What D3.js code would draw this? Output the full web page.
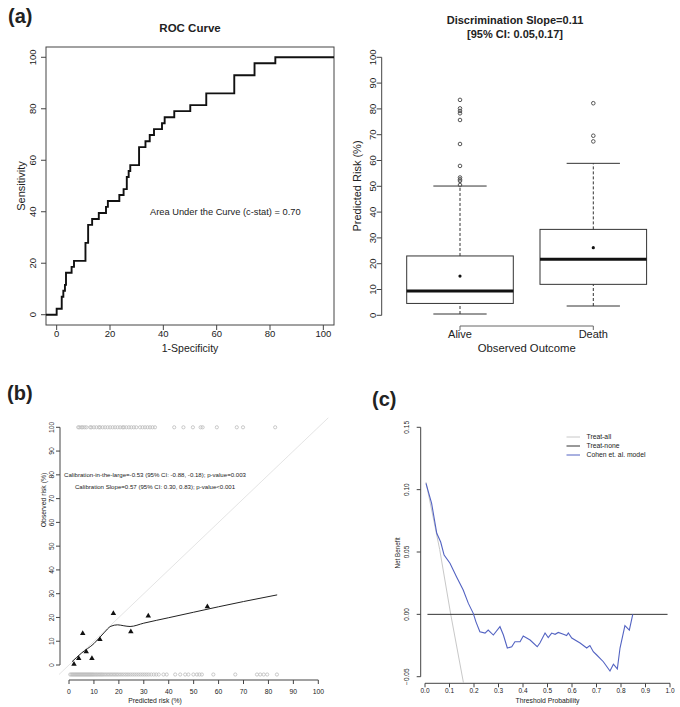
<!DOCTYPE html>
<html>
<head>
<meta charset="utf-8">
<script src="https://cdn.jsdelivr.net/npm/d3@7"></script>
<style>
  body { margin: 0; background: #fff; }
  text { font-family: "Liberation Sans", Arial, sans-serif; fill: #222; }
</style>
</head>
<body>
<script>
// ---- panel (a) ROC ----
var rocFpr = [-4, 0, 1.9, 2.5, 3.1, 3.5, 5.6, 6.5, 10.8, 11.8, 13.3, 15.8, 18.5, 19.2, 23.5, 25.1, 26.3, 27, 27.6, 30.9, 33.3, 34.9, 36.5, 39.5, 40.5, 44.1, 50.1, 56.1, 66.6, 74.2, 82, 104];
var rocTpr = [0, 2.3, 7, 9.3, 11.6, 16.3, 18.6, 20.9, 27.9, 34.9, 37.2, 39.5, 41.9, 44.2, 46.5, 48.8, 53.5, 55.8, 58.1, 65.1, 67.4, 69.8, 72.1, 74.4, 76.7, 79.1, 81.4, 86, 93, 97.7, 100, 100];
var rocTicks = [0, 20, 40, 60, 80, 100];

// ---- panel (a) boxplot ----
var outcomes = ["Alive", "Death"];
var boxLow = [0.5, 3.6];
var boxQ1 = [4.6, 12.0];
var boxMed = [9.4, 21.7];
var boxQ3 = [23.0, 33.3];
var boxHigh = [50.1, 58.9];
var boxMean = [15.2, 26.2];
var boxOut = [[50.5, 52.1, 52.7, 53.4, 57.9, 66.4, 75.7, 78.3, 79.2, 80.2, 83.5], [67.4, 69.6, 82.2]];
var boxTicks = [0, 10, 20, 30, 40, 50, 60, 70, 80, 90, 100];

// ---- panel (b) calibration ----
var decPred = [2, 3.9, 5.5, 6.9, 9.2, 12.4, 17.8, 24.8, 31.8, 55.5];
var decObs = [0.4, 2.8, 13.3, 5.6, 2.8, 10.8, 21.7, 14, 20.7, 24.5];
var loessX = [1.2, 5, 10, 14, 16.8, 19.5, 22, 24.5, 30, 40, 50, 60, 70, 83.5];
var loessY = [1.4, 5, 9, 13.5, 16.3, 16.9, 16.5, 16.2, 17.6, 19.9, 22.2, 24.5, 26.7, 29.5];
var rugDeath = [3.7, 4.2, 5, 5.5, 6.3, 7, 8.5, 9, 10, 11, 12, 12.5, 13.5, 14.5, 15.5, 16.5, 17.5, 18.5, 19.5, 20.5, 21.5, 22, 23, 24, 25, 26, 27, 28.5, 29.5, 30.5, 31.5, 32.5, 33.5, 34.5, 42.2, 45.9, 49.7, 52.8, 53.6, 59.3, 67.3, 69.8, 82.7];
var rugAlive = [0.5, 1, 1.4, 1.8, 2.2, 2.6, 3, 3.4, 3.8, 4.2, 4.6, 5, 5.4, 5.8, 6.2, 6.6, 7, 7.4, 7.8, 8.2, 8.6, 9, 9.4, 9.8, 10.3, 10.8, 11.3, 11.8, 12.3, 12.8, 13.3, 13.8, 14.4, 15, 15.6, 16.2, 16.8, 17.4, 18, 18.6, 19.2, 19.8, 20.5, 21.2, 21.9, 22.6, 23.3, 24, 24.8, 25.6, 26.4, 27.2, 28, 28.8, 29.6, 30.4, 31.2, 32, 33, 34, 35, 36, 37.9, 39.2, 42.6, 44.6, 46.6, 47.9, 49.9, 51.3, 52.3, 53.3, 57.9, 66.7, 75.4, 76.7, 78.1, 79.5, 83.4];
var calTicks = [0, 10, 20, 30, 40, 50, 60, 70, 80, 90, 100];

// ---- panel (c) decision curve ----
var dcaT = [0.004, 0.027, 0.048, 0.064, 0.078, 0.102, 0.129, 0.156, 0.177, 0.197, 0.208, 0.224, 0.245, 0.258, 0.279, 0.306, 0.320, 0.336, 0.354, 0.367, 0.388, 0.401, 0.429, 0.458, 0.469, 0.490, 0.503, 0.517, 0.531, 0.544, 0.565, 0.578, 0.585, 0.599, 0.633, 0.660, 0.673, 0.687, 0.701, 0.728, 0.755, 0.769, 0.785, 0.796, 0.816, 0.834, 0.848];
var dcaNB = [0.105, 0.089, 0.065, 0.058, 0.0475, 0.041, 0.030, 0.0195, 0.0088, 0.0008, -0.006, -0.014, -0.015, -0.0126, -0.0166, -0.0099, -0.0166, -0.027, -0.026, -0.022, -0.022, -0.0174, -0.0206, -0.026, -0.023, -0.015, -0.0187, -0.015, -0.016, -0.0145, -0.016, -0.017, -0.015, -0.019, -0.023, -0.027, -0.025, -0.030, -0.0326, -0.038, -0.0454, -0.040, -0.0438, -0.027, -0.0091, -0.0126, 0];
var allT = [0.004, 0.06, 0.105, 0.16];
var allNB = [0.106, 0.052, 0, -0.058];
var noneT = [0.01, 0.99];
var dcaYTicks = [-0.05, 0, 0.05, 0.10, 0.15];
var dcaXTicks = [0, 0.1, 0.2, 0.3, 0.4, 0.5, 0.6, 0.7, 0.8, 0.9, 1.0];
var legendNames = ["Treat-all", "Treat-none", "Cohen et. al. model"];
var legendColors = ["#c8c8c8", "#333", "#5363c2"];

var svg = d3.select('body').append('svg')
    .attr('width', 680)
    .attr('height', 707);

function label(x, y, txt, size, opts) {
  opts = opts || {};
  var t = svg.append('text')
      .attr('transform', 'translate(' + x + ',' + y + ')' + (opts.rot ? ' rotate(-90)' : ''))
      .attr('text-anchor', opts.anchor || 'middle')
      .attr('dy', '0.35em')
      .style('font-size', size + 'px')
      .text(txt);
  if (opts.bold) t.style('font-weight', 'bold');
  return t;
}

// vertical axis with rotated labels, R style
function yAxis(scale, ticks, x, len, labX, size, fmt) {
  svg.append('line').attr('x1', x).attr('x2', x)
      .attr('y1', scale(ticks[0])).attr('y2', scale(ticks[ticks.length - 1]))
      .attr('stroke', '#444');
  ticks.forEach(function (v) {
    svg.append('line').attr('x1', x - len).attr('x2', x)
        .attr('y1', scale(v)).attr('y2', scale(v)).attr('stroke', '#444');
    label(labX, scale(v), fmt ? fmt(v) : v, size, {rot: true});
  });
}
function xAxis(scale, ticks, y, len, labY, size, fmt) {
  svg.append('line').attr('y1', y).attr('y2', y)
      .attr('x1', scale(ticks[0])).attr('x2', scale(ticks[ticks.length - 1]))
      .attr('stroke', '#444');
  ticks.forEach(function (v) {
    svg.append('line').attr('y1', y).attr('y2', y + len)
        .attr('x1', scale(v)).attr('x2', scale(v)).attr('stroke', '#444');
    label(scale(v), labY, fmt ? fmt(v) : v, size);
  });
}

// ================= (a) ROC =================
var rx = d3.scaleLinear().domain([-4, 104]).range([46, 334]);
var ry = d3.scaleLinear().domain([-4, 104]).range([325, 47]);

label(8, 16, '(a)', 20, {bold: true, anchor: 'start'});
label(190, 28, 'ROC Curve', 11.5, {bold: true});

svg.append('rect').attr('x', 46).attr('y', 47).attr('width', 288).attr('height', 278)
    .attr('fill', 'none').attr('stroke', '#444');
rocTicks.forEach(function (v) {
  svg.append('line').attr('x1', 41).attr('x2', 46).attr('y1', ry(v)).attr('y2', ry(v)).attr('stroke', '#444');
  label(33, ry(v), v, 9.5, {rot: true});
  svg.append('line').attr('y1', 325).attr('y2', 330).attr('x1', rx(v)).attr('x2', rx(v)).attr('stroke', '#444');
  label(rx(v), 334, v, 9.5);
});
label(21, 186, 'Sensitivity', 11, {rot: true});
label(190, 348, '1-Specificity', 10.5);

var rocLine = d3.line().x(function (d) { return rx(d[0]); }).y(function (d) { return ry(d[1]); })
    .curve(d3.curveStepAfter);
svg.append('path').datum(d3.zip(rocFpr, rocTpr)).attr('d', rocLine)
    .attr('fill', 'none').attr('stroke', '#111').attr('stroke-width', 1.9);
label(150, 212, 'Area Under the Curve (c-stat) = 0.70', 9.3, {anchor: 'start'});

// ================= (a) boxplot =================
var by = d3.scaleLinear().domain([0, 100]).range([315.3, 57.3]);
var bx = d3.scalePoint().domain(outcomes).range([460, 593.3]);
var hw = 53.3;

label(515, 20, 'Discrimination Slope=0.11', 11, {bold: true});
label(515, 34, '[95% CI: 0.05,0.17]', 11, {bold: true});
yAxis(by, boxTicks, 381.7, 5, 373, 9.5);
label(357.5, 186, 'Predicted Risk (%)', 11, {rot: true});
svg.append('line').attr('x1', bx('Alive')).attr('x2', bx('Death')).attr('y1', 326).attr('y2', 326).attr('stroke', '#666');
outcomes.forEach(function (o, i) {
  var cx = bx(o);
  svg.append('line').attr('x1', cx).attr('x2', cx).attr('y1', 326).attr('y2', 330).attr('stroke', '#666');
  label(cx, 334, o, 11);
  // whiskers
  [[boxLow[i], boxQ1[i]], [boxQ3[i], boxHigh[i]]].forEach(function (w) {
    svg.append('line').attr('x1', cx).attr('x2', cx).attr('y1', by(w[0])).attr('y2', by(w[1]))
        .attr('stroke', '#333').attr('stroke-dasharray', '3,2');
  });
  [boxLow[i], boxHigh[i]].forEach(function (v) {
    svg.append('line').attr('x1', cx - hw / 2).attr('x2', cx + hw / 2).attr('y1', by(v)).attr('y2', by(v))
        .attr('stroke', '#333');
  });
  svg.append('rect').attr('x', cx - hw).attr('width', hw * 2)
      .attr('y', by(boxQ3[i])).attr('height', by(boxQ1[i]) - by(boxQ3[i]))
      .attr('fill', 'none').attr('stroke', '#333');
  svg.append('line').attr('x1', cx - hw).attr('x2', cx + hw).attr('y1', by(boxMed[i])).attr('y2', by(boxMed[i]))
      .attr('stroke', '#111').attr('stroke-width', 3);
  svg.append('circle').attr('cx', cx).attr('cy', by(boxMean[i])).attr('r', 1.6).attr('fill', '#111');
  svg.selectAll(null).data(boxOut[i]).enter().append('circle')
      .attr('cx', cx).attr('cy', function (d) { return by(d); }).attr('r', 1.8)
      .attr('fill', 'none').attr('stroke', '#555');
});
label(526.7, 348, 'Observed Outcome', 11.3);

// ================= (b) calibration =================
var cx = d3.scaleLinear().domain([0, 100]).range([69, 318.3]);
var cy = d3.scaleLinear().domain([0, 100]).range([665, 427.3]);

label(7, 393, '(b)', 20, {bold: true, anchor: 'start'});
yAxis(cy, calTicks, 60, 4, 52, 6.8);
xAxis(cx, calTicks, 680, 4, 691.5, 6.8);
label(43.5, 500, 'Observed risk (%)', 6.8, {rot: true});
label(155, 701, 'Predicted risk (%)', 6.8);

svg.append('line').attr('x1', cx(-4)).attr('y1', cy(-4)).attr('x2', cx(104)).attr('y2', cy(104))
    .attr('stroke', '#ddd').attr('stroke-width', 0.8);

svg.selectAll(null).data(rugDeath).enter().append('circle')
    .attr('cx', function (d) { return cx(d); }).attr('cy', cy(100)).attr('r', 1.6)
    .attr('fill', 'none').attr('stroke', '#bbb').attr('stroke-width', 0.8);
svg.selectAll(null).data(rugAlive).enter().append('circle')
    .attr('cx', function (d) { return cx(d); }).attr('cy', cy(-4)).attr('r', 1.6)
    .attr('fill', 'none').attr('stroke', '#bbb').attr('stroke-width', 0.8);

var calLine = d3.line().x(function (d) { return cx(d[0]); }).y(function (d) { return cy(d[1]); })
    .curve(d3.curveMonotoneX);
svg.append('path').datum(d3.zip(loessX, loessY)).attr('d', calLine)
    .attr('fill', 'none').attr('stroke', '#222').attr('stroke-width', 1);
svg.selectAll(null).data(d3.zip(decPred, decObs)).enter().append('path')
    .attr('d', d3.symbol().type(d3.symbolTriangle).size(13))
    .attr('transform', function (d) { return 'translate(' + cx(d[0]) + ',' + cy(d[1]) + ')'; })
    .attr('fill', '#111');

label(cx(34.5), cy(80), 'Calibration-in-the-large=-0.53 (95% CI: -0.88, -0.18); p-value=0.003', 6.1);
label(cx(34.5), cy(75), 'Calibration Slope=0.57 (95% CI: 0.30, 0.83); p-value<0.001', 6.1);

// ================= (c) decision curve =================
var dx = d3.scaleLinear().domain([0, 1]).range([425, 670]);
var dy = d3.scaleLinear().domain([-0.05, 0.15]).range([676.7, 427.3]);

label(372, 399, '(c)', 20, {bold: true, anchor: 'start'});
yAxis(dy, dcaYTicks, 420.7, 4, 406.5, 6.5, d3.format('.2f'));
xAxis(dx, dcaXTicks, 683.3, 4, 690.5, 6.5, d3.format('.1f'));
label(397.5, 553, 'Net Benefit', 6.3, {rot: true});
label(547.5, 700.5, 'Threshold Probability', 6.8);

svg.append('clipPath').attr('id', 'clipc').append('rect')
    .attr('x', 415).attr('y', 420).attr('width', 262).attr('height', 263);
var dline = d3.line().x(function (d) { return dx(d[0]); }).y(function (d) { return dy(d[1]); });
var gc = svg.append('g').attr('clip-path', 'url(#clipc)');
gc.append('path').datum(d3.zip(allT, allNB)).attr('d', dline)
    .attr('fill', 'none').attr('stroke', legendColors[0]).attr('stroke-width', 1);
gc.append('path').datum(noneT.map(function (t) { return [t, 0]; })).attr('d', dline)
    .attr('fill', 'none').attr('stroke', legendColors[1]).attr('stroke-width', 1);
gc.append('path').datum(d3.zip(dcaT, dcaNB)).attr('d', dline)
    .attr('fill', 'none').attr('stroke', legendColors[2]).attr('stroke-width', 1.1);

legendNames.forEach(function (n, i) {
  var y = 437 + i * 9;
  svg.append('line').attr('x1', 566.5).attr('x2', 580).attr('y1', y).attr('y2', y)
      .attr('stroke', legendColors[i]).attr('stroke-width', 1);
  label(586.5, y, n, 6.8, {anchor: 'start'});
});
</script>
</body>
</html>
